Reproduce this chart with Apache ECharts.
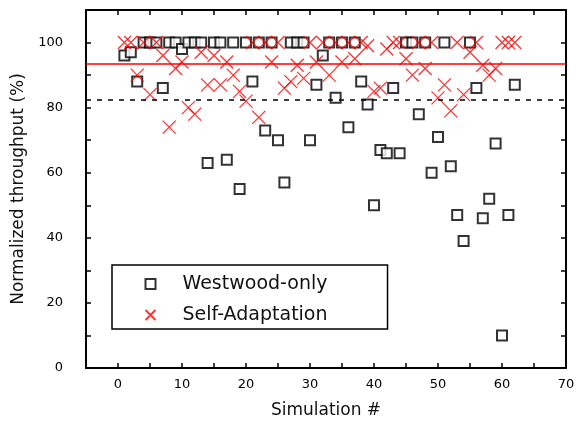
<!DOCTYPE html>
<html>
<head>
<meta charset="utf-8">
<script src="https://cdn.jsdelivr.net/npm/echarts@6/dist/echarts.min.js"></script>
<style>
  html, body { margin: 0; padding: 0; background: #fff; }
  #chart { width: 583px; height: 426px; }
</style>
</head>
<body>
<div id="chart"></div>
<script>
// simulation index (x)
const simulations = [
  1, 2, 3, 4, 5, 6, 7, 8, 9, 10, 11, 12, 13, 14, 15, 16, 17, 18, 19, 20, 21,
  22, 23, 24, 25, 26, 27, 28, 29, 30, 31, 32, 33, 34, 35, 36, 37, 38, 39, 40, 41,
  42, 43, 44, 45, 46, 47, 48, 49, 50, 51, 52, 53, 54, 55, 56, 57, 58, 59, 60, 61, 62
];

// normalized throughput (%)
const westwoodOnly = [
  96, 97, 88, 100, 100, 100, 86, 100, 100, 98, 100, 100, 100, 63, 100, 100, 64, 100, 55, 100, 88,
  100, 73, 100, 70, 57, 100, 100, 100, 70, 87, 96, 100, 83, 100, 74, 100, 88, 81, 50, 67,
  66, 86, 66, 100, 100, 78, 100, 60, 71, 100, 62, 47, 39, 100, 86, 46, 52, 69, 10, 47, 87
];
const selfAdaptation = [
  100, 100, 90, 100, 84, 100, 96, 74, 92, 94, 80, 78, 97, 87, 96, 87, 94, 90, 85, 82, 100,
  77, 100, 94, 100, 86, 88, 93, 89, 100, 94, 100, 90, 100, 94, 100, 95, 100, 99, 85, 86,
  98, 100, 100, 95, 90, 100, 92, 100, 83, 87, 79, 100, 84, 97, 100, 93, 90, 92, 100, 100, 100
];

// average lines
const selfAdaptationAvg = 93.5;
const westwoodAvg = 82.5;

const font = 'DejaVu Sans';
const crossPath = 'path://M0,0L10,10M0,10L10,0';

const chart = echarts.init(document.getElementById('chart'));

const frameLine = { show: true, onZero: false, lineStyle: { color: '#000', width: 2 } };
const tick = { show: true, inside: true, length: 5, lineStyle: { color: '#000', width: 1.5 } };

const option = {
  backgroundColor: '#fff',
  animation: false,
  grid: { left: 86, right: 17, top: 10, bottom: 58 },
  legend: {
    orient: 'vertical',
    left: 112,
    top: 265,
    padding: [9, 60, 4, 31],
    itemWidth: 10,
    itemHeight: 10,
    itemGap: 11,
    borderColor: '#000',
    borderWidth: 1.5,
    backgroundColor: '#fff',
    textStyle: { fontFamily: font, fontSize: 19, color: '#111', lineHeight: 20, padding: [0, 0, 0, 22] },
    data: ['Westwood-only', 'Self-Adaptation']
  },
  xAxis: [
    {
      type: 'value',
      min: -5,
      max: 70,
      interval: 5,
      position: 'bottom',
      axisLine: frameLine,
      axisTick: tick,
      splitLine: { show: false },
      axisLabel: {
        margin: 10,
        fontFamily: font,
        fontSize: 13,
        color: '#000',
        formatter: v => (v % 10 === 0 ? String(v) : '')
      },
      name: 'Simulation #',
      nameLocation: 'middle',
      nameGap: 34,
      nameTextStyle: { fontFamily: font, fontSize: 17, color: '#111' }
    },
    {
      type: 'value',
      min: -5,
      max: 70,
      interval: 5,
      position: 'top',
      axisLine: frameLine,
      axisTick: tick,
      axisLabel: { show: false },
      splitLine: { show: false }
    }
  ],
  yAxis: [
    {
      type: 'value',
      min: 0,
      max: 110,
      interval: 10,
      position: 'left',
      axisLine: frameLine,
      axisTick: tick,
      splitLine: { show: false },
      axisLabel: {
        margin: 23,
        fontFamily: font,
        fontSize: 13,
        color: '#000',
        formatter: v => (v % 20 === 0 ? String(v) : '')
      },
      name: 'Normalized throughput (%)',
      nameLocation: 'middle',
      nameGap: 53,
      nameTextStyle: { fontFamily: font, fontSize: 17, color: '#111' }
    },
    {
      type: 'value',
      min: 0,
      max: 110,
      interval: 10,
      position: 'right',
      axisLine: frameLine,
      axisTick: tick,
      axisLabel: { show: false },
      splitLine: { show: false }
    }
  ],
  series: [
    {
      name: 'Westwood-only',
      type: 'scatter',
      symbol: 'emptyRect',
      symbolSize: 10,
      itemStyle: { color: '#000', borderColor: '#000', borderWidth: 1.6 },
      data: simulations.map((s, i) => [s, westwoodOnly[i]]),
      markLine: {
        silent: true,
        symbol: 'none',
        label: { show: false },
        lineStyle: { color: '#000', width: 1.5, type: [5, 6] },
        data: [{ yAxis: westwoodAvg }]
      },
      z: 3
    },
    {
      name: 'Self-Adaptation',
      type: 'scatter',
      symbol: crossPath,
      symbolSize: 13,
      itemStyle: { color: 'none', borderColor: '#ff0000', borderWidth: 1.3 },
      data: simulations.map((s, i) => [s, selfAdaptation[i]]),
      markLine: {
        silent: true,
        symbol: 'none',
        label: { show: false },
        lineStyle: { color: '#ff0000', width: 1.5, type: 'solid' },
        data: [{ yAxis: selfAdaptationAvg }]
      },
      z: 4
    }
  ]
};

chart.setOption(option);
</script>
</body>
</html>
